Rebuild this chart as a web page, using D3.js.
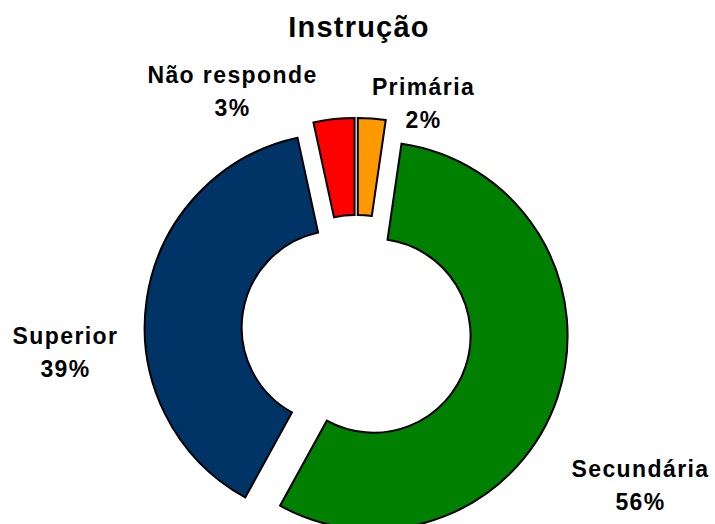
<!DOCTYPE html>
<html>
<head>
<meta charset="utf-8">
<script src="https://cdn.jsdelivr.net/npm/d3@7"></script>
<style>
  body { margin: 0; background: #fff; }
  text { font-family: "Liberation Sans", Arial, sans-serif; font-weight: bold; fill: #000; }
</style>
</head>
<body>
<div id="chart"></div>
<script>
// Data (clockwise from 12 o'clock)
const categories = ["Primária", "Secundária", "Superior", "Não responde"];
const values = [2.3, 55.7, 38.6, 3.4];
const colors = ["#FF9900", "#008000", "#003366", "#FF0000"];
const title = "Instrução";

// Label anchors, offset from the donut centre (layout only)
const labelOffsets = {
    "Primária": [67, -235],
    "Secundária": [284, 147],
    "Superior": [-291, 14],
    "Não responde": [-124, -247]
};

const width = 715, height = 524;
const cx = 356.5, cy = 330;
const outerR = 194, innerR = 97, explode = 18;

const svg = d3.select("#chart")
    .append("svg")
    .attr("width", width)
    .attr("height", height);

svg.append("text")
    .attr("x", 359)
    .attr("y", 37)
    .attr("text-anchor", "middle")
    .style("font-size", "29px")
    .style("letter-spacing", "1.2px")
    .text(title);

const color = d3.scaleOrdinal().domain(categories).range(colors);

const data = categories.map((c, i) => ({ name: c, value: values[i] }));

const pie = d3.pie()
    .sort(null)
    .value(d => d.value)
    .startAngle(0)
    .endAngle(2 * Math.PI);

const arc = d3.arc()
    .innerRadius(innerR)
    .outerRadius(outerR);

const g = svg.append("g")
    .attr("transform", `translate(${cx},${cy})`);

// Exploded slices
g.selectAll(".slice")
    .data(pie(data))
    .join("path")
    .attr("class", "slice")
    .attr("d", arc)
    .attr("transform", d => {
        const mid = (d.startAngle + d.endAngle) / 2;
        return `translate(${explode * Math.sin(mid)},${-explode * Math.cos(mid)})`;
    })
    .style("fill", d => color(d.data.name))
    .style("stroke", "#000")
    .style("stroke-width", 2)
    .style("stroke-linejoin", "miter");

// Labels: name + rounded percentage
const total = d3.sum(values);
const label = g.selectAll(".label")
    .data(data)
    .join("text")
    .attr("class", "label")
    .attr("text-anchor", "middle")
    .style("font-size", "23px")
    .style("letter-spacing", "1.4px")
    .attr("transform", d => `translate(${labelOffsets[d.name][0]},${labelOffsets[d.name][1]})`);

label.append("tspan")
    .attr("x", 0)
    .attr("y", 0)
    .text(d => d.name);

label.append("tspan")
    .attr("x", 0)
    .attr("y", 33)
    .text(d => Math.round(d.value / total * 100) + "%");
</script>
</body>
</html>
